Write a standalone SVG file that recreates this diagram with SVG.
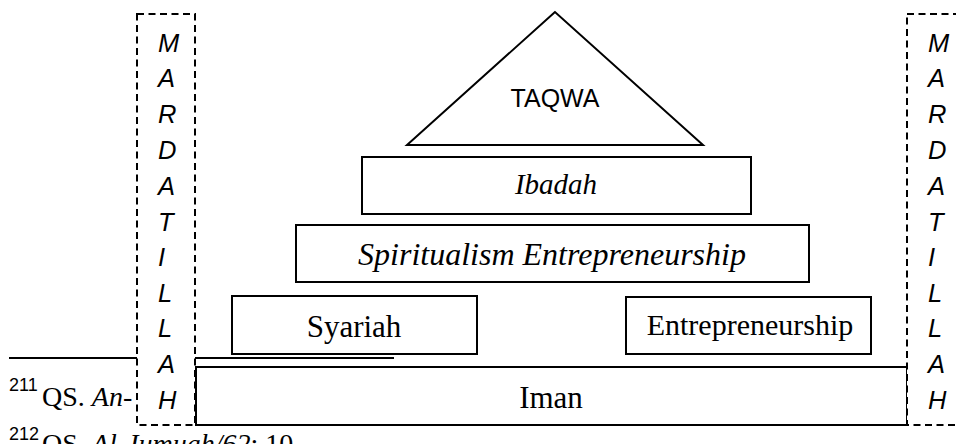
<svg xmlns="http://www.w3.org/2000/svg" width="956" height="444" viewBox="0 0 956 444">
<style>
.box{fill:#fff;stroke:#000;stroke-width:2}
.dash{fill:#fff;stroke:#000;stroke-width:2;stroke-dasharray:7 4.5}
.serif{font-family:"Liberation Serif","Times New Roman",serif;fill:#000}
.sans{font-family:"Liberation Sans",Arial,sans-serif;fill:#000}
.vl{font-family:"Liberation Sans",Arial,sans-serif;font-style:italic;font-size:25.5px;fill:#000}
</style>
<rect width="956" height="444" fill="#fff"/>
<g id="footnotes">
<line x1="9" y1="358" x2="394" y2="358" stroke="#000" stroke-width="1.8"/>
<text x="9" y="391" class="sans" font-size="18">211</text>
<text x="42" y="406" class="serif" font-size="28">QS. <tspan font-style="italic">An-</tspan></text>
<text x="9" y="440" class="sans" font-size="18">212</text>
<text x="42" y="453" class="serif" font-size="28">QS. <tspan font-style="italic">Al-Jumuah/62</tspan>: 10</text>
</g>
<g id="taqwa">
<polygon points="555,12 407,145 703,145" fill="#fff" stroke="#000" stroke-width="2"/>
<text x="555" y="107" class="sans" font-size="25" text-anchor="middle">TAQWA</text>
</g>
<g id="ibadah">
<rect x="362" y="157" width="389" height="57" class="box"/>
<text x="556" y="194" class="serif" font-size="29" font-style="italic" text-anchor="middle">Ibadah</text>
</g>
<g id="spiritualism">
<rect x="296" y="225" width="513" height="57" class="box"/>
<text x="552" y="265" class="serif" font-size="32" font-style="italic" text-anchor="middle">Spiritualism Entrepreneurship</text>
</g>
<g id="syariah">
<rect x="232" y="296" width="245" height="58" class="box"/>
<text x="354" y="337" class="serif" font-size="31" text-anchor="middle">Syariah</text>
</g>
<g id="entrepreneurship">
<rect x="626" y="297" width="245" height="57" class="box"/>
<text x="750" y="335" class="serif" font-size="30" text-anchor="middle">Entrepreneurship</text>
</g>
<g id="iman">
<rect x="196" y="367" width="711" height="58" class="box"/>
<text x="551" y="408" class="serif" font-size="31" text-anchor="middle">Iman</text>
</g>
<g id="mardatillah-left">
<rect x="137" y="14" width="58" height="411" class="dash"/>
<text class="vl"><tspan x="158" y="51.7">M</tspan><tspan x="158" y="87.3">A</tspan><tspan x="158" y="123">R</tspan><tspan x="158" y="159">D</tspan><tspan x="158" y="195">A</tspan><tspan x="158" y="230.5">T</tspan><tspan x="158" y="266">I</tspan><tspan x="158" y="301.7">L</tspan><tspan x="158" y="337">L</tspan><tspan x="158" y="373">A</tspan><tspan x="158" y="409">H</tspan></text>
</g>
<g id="mardatillah-right">
<rect x="907" y="14" width="60" height="411" class="dash"/>
<text class="vl"><tspan x="928" y="51.7">M</tspan><tspan x="928" y="87.3">A</tspan><tspan x="928" y="123">R</tspan><tspan x="928" y="159">D</tspan><tspan x="928" y="195">A</tspan><tspan x="928" y="230.5">T</tspan><tspan x="928" y="266">I</tspan><tspan x="928" y="301.7">L</tspan><tspan x="928" y="337">L</tspan><tspan x="928" y="373">A</tspan><tspan x="928" y="409">H</tspan></text>
</g>
<g id="connectors"></g>
</svg>
